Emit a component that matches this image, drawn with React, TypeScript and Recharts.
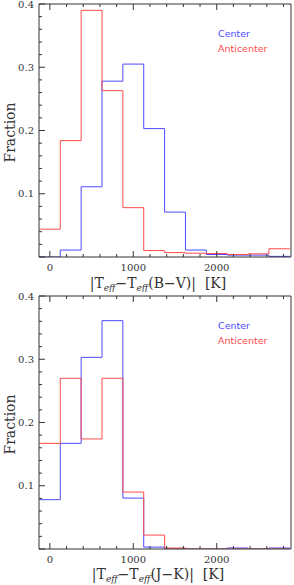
import React from 'react';
import { LineChart, Line, XAxis, YAxis, Legend } from 'recharts';

// bin centres of the histograms, |dTeff| in K (bin width 250)
const binCenters = [0, 250, 500, 750, 1000, 1250, 1500, 1750, 2000, 2250, 2500, 2750];
const binWidth = 250;

// top panel: |Teff - Teff(B-V)|
const bvCenter = [0, 0.011, 0.111, 0.278, 0.305, 0.203, 0.071, 0.011, 0.004, 0.003, 0.003, 0.001];
const bvAnti = [0.044, 0.184, 0.39, 0.263, 0.078, 0.0102, 0.007, 0.006, 0.0055, 0.004, 0.005, 0.013];

// bottom panel: |Teff - Teff(J-K)|
const jkCenter = [0.078, 0.167, 0.303, 0.361, 0.0805, 0.003, 0, 0, 0, 0.0016, 0, 0.0016];
const jkAnti = [0.167, 0.27, 0.174, 0.27, 0.09, 0.022, 0.0016, 0, 0, 0, 0, 0];

const seriesNames = ['Center', 'Anticenter'];

const xTicks = [0, 200, 400, 600, 800, 1000, 1200, 1400, 1600, 1800, 2000, 2200, 2400, 2600, 2800];
const yTicks = [0, 0.02, 0.04, 0.06, 0.08, 0.1, 0.12, 0.14, 0.16, 0.18, 0.2, 0.22, 0.24, 0.26, 0.28, 0.3, 0.32, 0.34, 0.36, 0.38, 0.4];

const BLUE = '#4b4bff';
const RED = '#ff4b4b';
const FRAME = '#333';
const SERIF = '"DejaVu Serif", serif';

// step histogram table: one row per left bin edge plus a closing right edge
function buildSteps(center: number[], anti: number[]) {
  const rows = binCenters.map((c, i) => ({ x: c - binWidth / 2, center: center[i], anti: anti[i] }));
  const last = binCenters.length - 1;
  rows.push({ x: binCenters[last] + binWidth / 2, center: center[last], anti: anti[last] });
  return rows;
}

const isMajorX = (v: number) => v % 1000 === 0;
const isMajorY = (v: number) => Math.abs(v * 10 - Math.round(v * 10)) < 1e-6;

const BottomTick = (props: any) => {
  const { x, y, payload } = props;
  const major = isMajorX(payload.value);
  return (
    <g>
      <line x1={x} x2={x} y1={y} y2={y - (major ? 6 : 3)} stroke={FRAME} />
      {major && (
        <text x={x} y={y + 14} textAnchor="middle" fontSize={10} fontFamily={SERIF} fill={FRAME}>
          {payload.value}
        </text>
      )}
    </g>
  );
};

const TopTick = (props: any) => {
  const { x, y, payload } = props;
  const major = isMajorX(payload.value);
  return <line x1={x} x2={x} y1={y} y2={y + (major ? 6 : 3)} stroke={FRAME} />;
};

const LeftTick = (props: any) => {
  const { x, y, payload } = props;
  const major = isMajorY(payload.value);
  return (
    <g>
      <line x1={x} x2={x + (major ? 6 : 3)} y1={y} y2={y} stroke={FRAME} />
      {major && payload.value > 0 && (
        <text x={x - 5} y={y + 3.5} textAnchor="end" fontSize={10} fontFamily={SERIF} fill={FRAME}>
          {payload.value.toFixed(1)}
        </text>
      )}
    </g>
  );
};

const RightTick = (props: any) => {
  const { x, y, payload } = props;
  const major = isMajorY(payload.value);
  return <line x1={x} x2={x - (major ? 6 : 3)} y1={y} y2={y} stroke={FRAME} />;
};

const LegendBox = (props: any) => {
  const items = [...(props.payload || [])].sort(
    (a: any, b: any) => seriesNames.indexOf(a.value) - seriesNames.indexOf(b.value)
  );
  return (
    <div style={{ fontFamily: '"DejaVu Sans", sans-serif', fontSize: 9.5, lineHeight: '15px' }}>
      {items.map((p: any) => (
        <div key={p.value} style={{ color: p.color }}>{p.value}</div>
      ))}
    </div>
  );
};

function Panel({ center, anti, color, height, top, labelGap }: any) {
  const data = buildSteps(center, anti);
  const xLabel = (p: any) => {
    const vb = p.viewBox;
    return (
      <text x={vb.x + vb.width / 2 - 7} y={vb.y + labelGap} textAnchor="middle" fontSize={14} fontFamily={SERIF} fill={FRAME}>
        |T<tspan fontSize={9} fontStyle="italic" dy={3}>eff</tspan>
        <tspan dy={-3}>−T</tspan>
        <tspan fontSize={9} fontStyle="italic" dy={3}>eff</tspan>
        <tspan dy={-3}>{`(${color})|\u00a0\u00a0[K]`}</tspan>
      </text>
    );
  };
  const yLabel = (p: any) => {
    const vb = p.viewBox;
    const cx = 10;
    const cy = vb.y + vb.height / 2 + 2;
    return (
      <text x={cx} y={cy} transform={`rotate(-90 ${cx} ${cy})`} textAnchor="middle" dominantBaseline="central" fontSize={14} fontFamily={SERIF} fill={FRAME}>
        Fraction
      </text>
    );
  };
  return (
    <LineChart width={294} height={height} data={data} margin={{ top: 0, right: 0, bottom: 0, left: 0 }}>
      <XAxis type="number" dataKey="x" domain={[-130, 2890]} ticks={xTicks} interval={0} allowDataOverflow
        height={height - top - 253} tickSize={0} tickMargin={0} tick={<BottomTick />} axisLine={{ stroke: FRAME }} tickLine={false}
        label={{ content: xLabel }} />
      <XAxis xAxisId="top" orientation="top" type="number" dataKey="x" domain={[-130, 2890]} ticks={xTicks} interval={0} allowDataOverflow
        height={top} tickSize={0} tickMargin={0} tick={<TopTick />} axisLine={{ stroke: FRAME }} tickLine={false} />
      <YAxis type="number" domain={[0, 0.4]} ticks={yTicks} interval={0} allowDataOverflow width={39}
        tickSize={0} tickMargin={0} tick={<LeftTick />} axisLine={{ stroke: FRAME }} tickLine={false}
        label={{ content: yLabel }} />
      <YAxis yAxisId="right" orientation="right" type="number" domain={[0, 0.4]} ticks={yTicks} interval={0} width={3}
        tickSize={0} tickMargin={0} tick={<RightTick />} axisLine={{ stroke: FRAME }} tickLine={false} />
      <Legend layout="vertical" align="center" verticalAlign="middle" content={<LegendBox />}
        wrapperStyle={{ left: 218, top: top + 22, width: 70, height: 32 }} />
      <Line type="stepAfter" dataKey="center" name={seriesNames[0]} stroke={BLUE} strokeWidth={1} dot={false} activeDot={false} isAnimationActive={false} />
      <Line type="stepAfter" dataKey="anti" name={seriesNames[1]} stroke={RED} strokeWidth={1} dot={false} activeDot={false} isAnimationActive={false} />
    </LineChart>
  );
}

export default function App() {
  return (
    <div style={{ position: 'absolute', left: 0, top: 0, width: 294, height: 585, background: '#fff' }}>
      <Panel center={bvCenter} anti={bvAnti} color="B−V" height={292} top={4} labelGap={31} />
      <Panel center={jkCenter} anti={jkAnti} color="J−K" height={293} top={4} labelGap={30} />
    </div>
  );
}
